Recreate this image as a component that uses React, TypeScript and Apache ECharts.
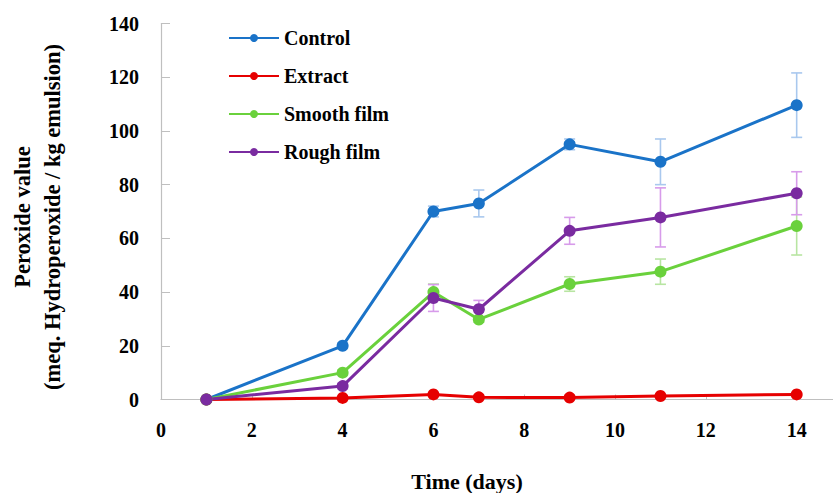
import React, { useEffect, useRef } from "react";
import * as echarts from "echarts";

const days = [1, 4, 6, 7, 9, 11, 14];
const control = [0, 20, 70, 73, 95, 88.5, 109.6];
const controlErr = [0, 1, 2, 5, 2, 8.5, 12];
const extract = [0, 0.6, 1.9, 0.8, 0.7, 1.3, 1.9];
const extractErr = [0, 0.3, 0.5, 0.3, 0.3, 0.3, 0.5];
const smooth = [0, 10, 40, 29.8, 43, 47.6, 64.6];
const smoothErr = [0, 1, 3, 1, 2.7, 4.7, 10.8];
const rough = [0, 5, 37.8, 33.6, 62.8, 67.8, 76.8];
const roughErr = [0, 1, 5, 3.3, 5, 11, 8];

const seriesNames = ["Control", "Extract", "Smooth film", "Rough film"];
const yTicks = [0, 20, 40, 60, 80, 100, 120, 140];
const xTicks = [0, 2, 4, 6, 8, 10, 12, 14];

const FONT = "'Liberation Serif', 'Times New Roman', serif";

export default function App() {
  const ref = useRef<HTMLDivElement>(null);
  useEffect(() => {
    if (!ref.current) return;
    const chart = echarts.init(ref.current, undefined, { renderer: "svg" });
    const defs = [
      { name: seriesNames[0], vals: control, err: controlErr, color: "#1a73c8", errColor: "#a9c8ee" },
      { name: seriesNames[1], vals: extract, err: extractErr, color: "#e60000", errColor: "#f2a0a0" },
      { name: seriesNames[2], vals: smooth, err: smoothErr, color: "#6ad13c", errColor: "#b8e5a2" },
      { name: seriesNames[3], vals: rough, err: roughErr, color: "#7a2ba0", errColor: "#d79bea" },
    ];
    const series: any[] = [];
    defs.forEach((d) => {
      series.push({
        type: "custom",
        name: d.name + " err",
        silent: true,
        z: 1,
        data: days.map((x, i) => [x, d.vals[i] - d.err[i], d.vals[i] + d.err[i]]),
        renderItem: (params: any, api: any) => {
          const x = api.value(0);
          const lo = api.coord([x, api.value(1)]);
          const hi = api.coord([x, api.value(2)]);
          const w = 5.5;
          const style = { stroke: d.errColor, lineWidth: 1.6 };
          return {
            type: "group",
            children: [
              { type: "line", shape: { x1: lo[0], y1: lo[1], x2: hi[0], y2: hi[1] }, style },
              { type: "line", shape: { x1: lo[0] - w, y1: lo[1], x2: lo[0] + w, y2: lo[1] }, style },
              { type: "line", shape: { x1: hi[0] - w, y1: hi[1], x2: hi[0] + w, y2: hi[1] }, style },
            ],
          };
        },
      });
    });
    defs.forEach((d) => {
      series.push({
        type: "line",
        name: d.name,
        z: 3,
        data: days.map((x, i) => [x, d.vals[i]]),
        symbol: "circle",
        symbolSize: 12,
        color: d.color,
        lineStyle: { width: 3, color: d.color },
        itemStyle: { color: d.color },
      });
    });
    chart.setOption({
      animation: false,
      textStyle: { fontFamily: FONT },
      grid: { left: 161, top: 23.5, right: 0, bottom: 93.5, containLabel: false },
      legend: {
        data: seriesNames,
        orient: "vertical",
        left: 228,
        top: 28,
        padding: 0,
        itemWidth: 50,
        itemHeight: 10,
        itemGap: 18,
        textStyle: { fontFamily: FONT, fontWeight: "bold", fontSize: 20, color: "#000", lineHeight: 20 },
        selectedMode: false,
      },
      xAxis: {
        type: "value",
        min: 0,
        max: 14.8,
        interval: 2,
        axisLine: { lineStyle: { color: "#bfbfbf", width: 1.2 } },
        axisTick: { inside: true, length: 5, lineStyle: { color: "#bfbfbf" } },
        splitLine: { show: false },
        axisLabel: {
          showMaxLabel: false,
          margin: 20,
          color: "#000",
          fontFamily: FONT,
          fontWeight: "bold",
          fontSize: 20,
          formatter: (v: number) => (xTicks.indexOf(v) >= 0 ? String(v) : ""),
        },
      },
      yAxis: {
        type: "value",
        min: 0,
        max: 140,
        interval: 20,
        axisLine: { show: true, lineStyle: { color: "#bfbfbf", width: 1.2 } },
        axisTick: { show: true, inside: true, length: 9, lineStyle: { color: "#bfbfbf" } },
        splitLine: { show: false },
        axisLabel: {
          margin: 22,
          color: "#000",
          fontFamily: FONT,
          fontWeight: "bold",
          fontSize: 20,
          formatter: (v: number) => (yTicks.indexOf(v) >= 0 ? String(v) : ""),
        },
      },
      graphic: [
        {
          type: "text",
          x: 467,
          y: 481,
          style: {
            text: "Time (days)",
            fontFamily: FONT,
            fontWeight: "bold",
            fontSize: 22,
            fill: "#000",
            align: "center",
            verticalAlign: "middle",
          },
        },
        {
          type: "text",
          x: 37,
          y: 217,
          rotation: Math.PI / 2,
          style: {
            text: "Peroxide value\n(meq. Hydroperoxide / kg emulsion)",
            fontFamily: FONT,
            fontWeight: "bold",
            fontSize: 22.5,
            lineHeight: 30,
            fill: "#000",
            align: "center",
            verticalAlign: "middle",
          },
        },
      ],
      series,
    });
    return () => chart.dispose();
  }, []);
  return <div ref={ref} style={{ width: 833, height: 493, position: "absolute", left: 0, top: 0 }} />;
}
